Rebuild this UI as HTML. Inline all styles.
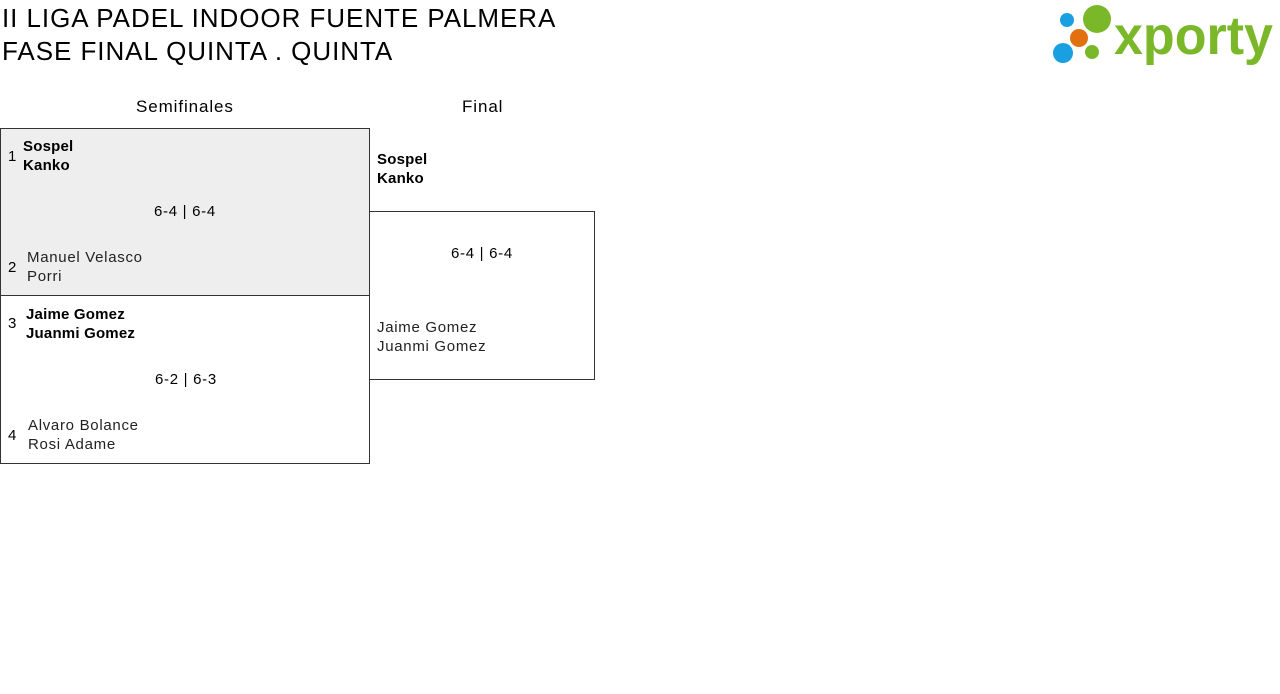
<!DOCTYPE html>
<html><head><meta charset="utf-8"><style>
body{margin:0;width:1280px;height:694px;background:#fff;position:relative;font-family:"Liberation Sans",sans-serif;color:#000;overflow:hidden}
.a{position:absolute;white-space:nowrap}
.t{font-size:26px;left:2px;letter-spacing:0.95px}
.box{position:absolute;border:1px solid #333;box-sizing:border-box}
.n{font-size:15px;line-height:19px;letter-spacing:0.7px}
.b{font-weight:bold;letter-spacing:0.2px}
.l{color:#222}
</style></head><body>
<div class="a t" style="top:3px">II LIGA PADEL INDOOR FUENTE PALMERA</div>
<div class="a t" style="top:36px">FASE FINAL QUINTA . QUINTA</div>

<svg class="a" style="left:1040px;top:0" width="240" height="70">
<circle cx="27" cy="20" r="7" fill="#1aa0e0"/>
<circle cx="57" cy="19" r="14" fill="#7ab829"/>
<circle cx="39" cy="38" r="9" fill="#e2700f"/>
<circle cx="23" cy="53" r="10" fill="#1aa0e0"/>
<circle cx="52" cy="52" r="7" fill="#7ab829"/>
<text x="74" y="54" font-family="Liberation Sans" font-weight="bold" font-size="54" fill="#7ab829" textLength="159" lengthAdjust="spacingAndGlyphs">xporty</text>
</svg>

<div class="a" style="left:136px;top:97px;font-size:17px;letter-spacing:0.9px">Semifinales</div>
<div class="a" style="left:462px;top:97px;font-size:17px;letter-spacing:0.9px">Final</div>

<div class="box" style="left:0;top:128px;width:370px;height:168px;background:#eee"></div>
<div class="box" style="left:0;top:295px;width:370px;height:169px"></div>
<div class="box" style="left:369px;top:211px;width:226px;height:169px"></div>

<div class="a n" style="left:8px;top:147px">1</div>
<div class="a n b" style="left:23px;top:137px">Sospel<br>Kanko</div>
<div class="a n" style="left:154px;top:202px">6-4 | 6-4</div>
<div class="a n" style="left:8px;top:258px">2</div>
<div class="a n l" style="left:27px;top:248px">Manuel Velasco<br>Porri</div>

<div class="a n" style="left:8px;top:314px">3</div>
<div class="a n b" style="left:26px;top:305px">Jaime Gomez<br>Juanmi Gomez</div>
<div class="a n" style="left:155px;top:370px">6-2 | 6-3</div>
<div class="a n" style="left:8px;top:426px">4</div>
<div class="a n l" style="left:28px;top:416px">Alvaro Bolance<br>Rosi Adame</div>

<div class="a n b" style="left:377px;top:150px">Sospel<br>Kanko</div>
<div class="a n" style="left:451px;top:244px">6-4 | 6-4</div>
<div class="a n l" style="left:377px;top:318px">Jaime Gomez<br>Juanmi Gomez</div>
</body></html>
